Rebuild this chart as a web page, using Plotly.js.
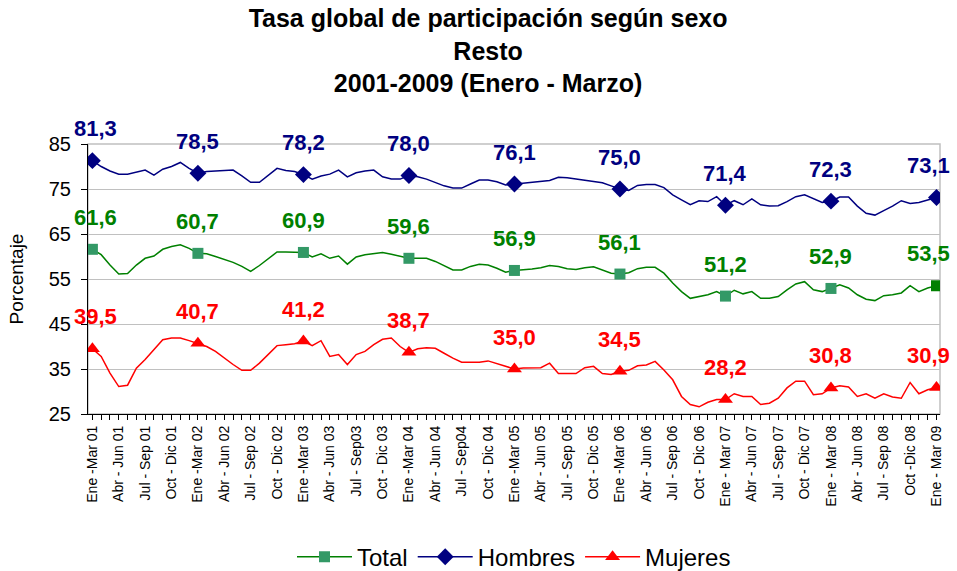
<!DOCTYPE html>
<html>
<head>
<meta charset="utf-8">
<script src="https://cdn.plot.ly/plotly-3.0.1.min.js"></script>
<style>html,body{margin:0;padding:0;background:#fff;}#chart{width:957px;height:571px;}</style>
</head>
<body>
<div id="chart"></div>
<script>
// Period tick labels (every third month of rolling quarters)
var tickLabels = [
  "Ene -Mar 01","Abr - Jun 01","Jul - Sep 01","Oct - Dic 01",
  "Ene -Mar 02","Abr - Jun 02","Jul - Sep 02","Oct - Dic 02",
  "Ene -Mar 03","Abr - Jun 03","Jul - Sep03","Oct - Dic 03",
  "Ene -Mar 04","Abr - Jun 04","Jul - Sep04","Oct - Dic 04",
  "Ene -Mar 05","Abr - Jun 05","Jul - Sep 05","Oct - Dic 05",
  "Ene -Mar 06","Abr - Jun 06","Jul - Sep 06","Oct - Dic 06",
  "Ene - Mar 07","Abr - Jun 07","Jul - Sep 07","Oct - Dic 07",
  "Ene - Mar 08","Abr - Jun 08","Jul - Sep 08","Oct -Dic 08",
  "Ene - Mar 09"
];

var hombres = [
  81.3,80.0,79.0,78.3,78.3,78.7,79.2,78.1,79.4,80.0,80.9,79.6,
  78.5,78.9,79.0,79.1,79.2,77.9,76.5,76.5,78.1,79.6,79.1,78.9,
  78.2,77.2,77.9,78.3,79.2,77.7,78.6,79.0,79.2,77.7,77.2,77.2,
  78.0,77.7,77.2,76.5,75.7,75.2,75.2,76.1,77.0,77.0,76.6,75.9,
  76.1,76.3,76.5,76.6,76.9,77.6,77.5,77.2,76.9,76.6,76.4,75.7,
  75.0,74.7,75.8,76.0,76.0,75.3,73.7,72.6,71.5,72.4,72.2,73.3,
  71.4,72.4,71.5,72.8,71.5,71.2,71.3,72.2,73.3,73.7,72.8,72.0,
  72.3,73.2,73.2,71.2,69.6,69.2,70.2,71.2,72.4,71.8,72.0,72.6,
  73.1
];

var total = [
  61.6,60.4,58.1,56.1,56.2,58.1,59.6,60.1,61.6,62.2,62.6,61.8,
  60.7,60.6,60.0,59.3,58.7,57.8,56.7,58.0,59.6,61.0,61.0,60.9,
  60.9,59.9,60.6,59.6,60.1,58.3,59.9,60.4,60.7,60.9,60.5,60.0,
  59.6,59.6,59.6,58.9,58.0,57.0,57.0,57.8,58.3,58.1,57.4,56.5,
  56.9,57.0,57.2,57.5,58.0,57.8,57.3,57.1,57.5,57.7,57.0,56.3,
  56.1,56.4,57.3,57.6,57.6,56.3,54.1,52.2,50.7,51.1,51.5,52.2,
  51.2,52.5,51.7,52.2,50.7,50.7,51.1,52.6,53.9,54.4,52.6,52.2,
  52.9,53.7,53.0,51.5,50.5,50.2,51.3,51.5,51.9,53.5,52.2,53.0,
  53.5
];

var mujeres = [
  39.5,37.8,34.1,31.1,31.4,35.2,37.1,39.3,41.5,41.9,41.9,41.3,
  40.7,40.0,38.9,37.4,36.0,34.7,34.7,36.3,38.2,40.2,40.4,40.6,
  41.2,40.2,41.3,37.8,38.2,36.0,38.2,38.9,40.4,41.6,41.9,40.0,
  38.7,39.5,39.7,39.6,38.5,37.4,36.5,36.5,36.5,36.8,36.2,35.6,
  35.0,35.2,35.2,35.3,36.3,34.0,34.0,34.0,35.3,35.6,34.0,33.8,
  34.5,34.7,35.7,35.9,36.7,34.8,32.6,28.9,27.1,26.6,27.6,28.2,
  28.2,29.5,28.9,28.9,27.1,27.4,28.5,30.8,32.3,32.3,29.3,29.5,
  30.8,31.3,31.0,28.9,29.5,28.5,29.5,28.8,28.5,32.0,29.5,30.4,
  30.9
];

// Labelled (Ene-Mar) values shown above the markers
var hombresLabels = ["81,3","78,5","78,2","78,0","76,1","75,0","71,4","72,3","73,1"];
var totalLabels   = ["61,6","60,7","60,9","59,6","56,9","56,1","51,2","52,9","53,5"];
var mujeresLabels = ["39,5","40,7","41,2","38,7","35,0","34,5","28,2","30,8","30,9"];

var FONT = "Arial, 'Liberation Sans', sans-serif";
var n = hombres.length;
var xs = hombres.map(function(_, i){ return i; });
var ticktext = xs.map(function(i){ return i % 3 === 0 ? tickLabels[i/3] : ""; });
function isMark(i){ return i % 12 === 0; }
function markOnly(arr){ return arr.map(function(v,i){ return isMark(i) ? v : null; }); }

var series = [
  {name:"Total", y: total, color:"#008000", mcolor: total.map(function(v,i){ return i===n-1 ? "#008000" : "#339966"; }), symbol:"square", size:11, labels: totalLabels, lcolor:"#008000"},
  {name:"Hombres", y: hombres, color:"#000080", mcolor:"#000080", symbol:"diamond", size:13, labels: hombresLabels, lcolor:"#000080"},
  {name:"Mujeres", y: mujeres, color:"#FF0000", mcolor:"#FF0000", symbol:"triangle-up", size:13, labels: mujeresLabels, lcolor:"#FF0000"}
];

var traces = [];
series.forEach(function(s){
  traces.push({x: xs, y: s.y, mode:"lines", line:{color:s.color, width:1.5}, showlegend:false, hoverinfo:"skip"});
});
series.forEach(function(s){
  traces.push({x: xs, y: markOnly(s.y), name: s.name, mode:"lines+markers", connectgaps:false,
    line:{color:s.color, width:1.5},
    marker:{symbol:s.symbol, size:s.size, color:s.mcolor, line:{width:0}}});
});

var annotations = [];
series.forEach(function(s){
  var k = 0;
  s.y.forEach(function(v,i){
    if (isMark(i)) {
      annotations.push({x:i, y:v, xref:"x", yref:"y", text:s.labels[k], showarrow:false,
        yshift:32, xshift: (i===n-1 ? -8 : (i===0 ? 3 : 0)),
        font:{family:FONT, size:22, color:s.lcolor, weight:"bold"}});
      k++;
    }
  });
});

var layout = {
  width:957, height:571,
  paper_bgcolor:"#ffffff", plot_bgcolor:"#ffffff",
  margin:{l:88, r:17, t:144, b:157, autoexpand:false},
  font:{family:FONT, color:"#000"},
  title:{text:"<b>Tasa global de participación según sexo<br>Resto<br>2001-2009 (Enero - Marzo)</b>",
    font:{family:FONT, size:25, color:"#000"}, x:0.51, xref:"container", xanchor:"center",
    y:0.952, yref:"container", yanchor:"top"},
  xaxis:{range:[-0.5, 96.4], tickmode:"array", tickvals: xs, ticktext: ticktext, automargin:false,
    tickangle:-90, ticks:"outside", ticklen:5, tickcolor:"#000", tickwidth:1,
    showline:true, linecolor:"#000", linewidth:1.2, showgrid:false, zeroline:false,
    tickfont:{family:FONT, size:14, color:"#000"}},
  yaxis:{range:[25,85], tick0:25, dtick:10, ticks:"outside", ticklen:6, tickcolor:"#000", automargin:false,
    ticklabelstandoff:6,
    showline:true, linecolor:"#000", linewidth:1.2, gridcolor:"#c0c0c0", gridwidth:1.2, zeroline:false,
    tickfont:{family:FONT, size:20, color:"#000"},
    title:{text:"Porcentaje", font:{family:FONT, size:19, color:"#000"}, standoff:20}},
  shapes:[{type:"rect", xref:"paper", yref:"paper", x0:0, x1:1, y0:0, y1:1, line:{color:"#c0c0c0", width:1.5}, layer:"below"}],
  legend:{orientation:"h", x:0.5, xanchor:"center", y:-0.53, yanchor:"middle", itemwidth:55,
    font:{family:FONT, size:24, color:"#000"}, bgcolor:"rgba(0,0,0,0)"},
  annotations: annotations
};

Plotly.newPlot("chart", traces, layout, {displayModeBar:false, responsive:false});
</script>
</body>
</html>
